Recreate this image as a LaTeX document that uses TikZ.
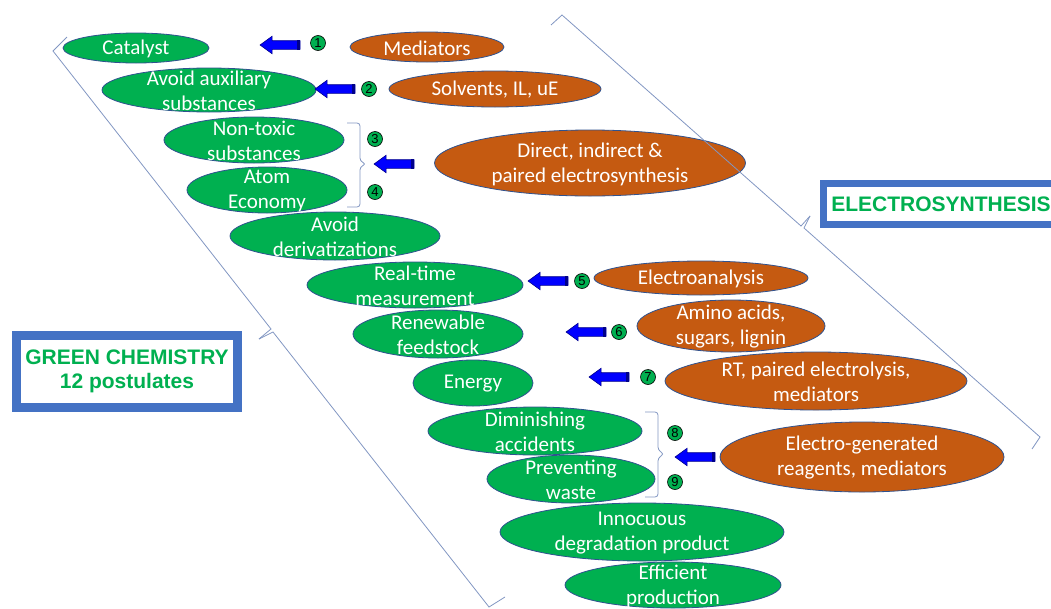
\documentclass[tikz,border=0pt]{standalone}
\usepackage{fontspec}
\setmainfont{Carlito}
\newfontfamily\arialf{Liberation Sans}
\usetikzlibrary{shapes.geometric,shapes.arrows,calc}
\definecolor{gfill}{HTML}{00B050}
\definecolor{ofill}{HTML}{C55A11}
\definecolor{outl}{HTML}{2F528F}
\definecolor{boxblue}{HTML}{4472C4}
\definecolor{boxgreen}{HTML}{00B050}
\definecolor{bracecol}{HTML}{8196C2}
\definecolor{arrowblue}{HTML}{0000FF}
\definecolor{arrowline}{HTML}{00008B}
\begin{document}
\begin{tikzpicture}[x=1pt,y=-1pt,
  ell/.style={ellipse, draw=outl, line width=0.8pt, inner sep=0pt},
  gell/.style={ell, fill=gfill},
  oell/.style={ell, fill=ofill},
  txt/.style={text=white, align=center, font=\fontsize{21}{25}\selectfont, inner sep=0pt, yshift=-1pt},
  num/.style={circle, draw=black, line width=0.6pt, fill=gfill, minimum size=15pt, inner sep=0pt, font=\arialf\fontsize{13}{13}\selectfont},
  barrow/.style={single arrow, draw=arrowline, line width=0.6pt, fill=arrowblue, minimum height=40pt, inner xsep=0pt, inner ysep=4pt, single arrow head extend=4.5pt, single arrow tip angle=72, shape border rotate=180},
  sbrace/.style={draw=bracecol, line width=0.8pt, rounded corners=3pt},
  bbrace/.style={draw=bracecol, line width=0.8pt},
  tbox/.style={draw=boxblue, fill=white, text=boxgreen, font=\arialf\bfseries\fontsize{21}{24}\selectfont, align=center, inner sep=0pt}
]
\useasboundingbox (0,0) rectangle (1051,608);
\clip (0,0) rectangle (1051,608);

% green ellipses
\node[gell, minimum width=146pt, minimum height=30pt] (cat) at (136,48) {};
\node[gell, minimum width=214pt, minimum height=44pt] (aux) at (209,90) {};
\node[gell, minimum width=180pt, minimum height=46pt] (ntx) at (254,140) {};
\node[gell, minimum width=160pt, minimum height=46pt] (atom) at (267,190) {};
\node[gell, minimum width=210pt, minimum height=48pt] (der) at (335,236) {};
\node[gell, minimum width=216pt, minimum height=46pt] (rt) at (415,285) {};
\node[gell, minimum width=170pt, minimum height=48pt] (ren) at (438,334) {};
\node[gell, minimum width=120pt, minimum height=46pt] (ene) at (473,383) {};
\node[gell, minimum width=214pt, minimum height=48pt] (dim) at (535,431) {};
\node[gell, minimum width=168pt, minimum height=48pt] (prev) at (571,479) {};
\node[gell, minimum width=284pt, minimum height=58pt] (inn) at (642,532) {};
\node[gell, minimum width=216pt, minimum height=46pt] (eff) at (673,585) {};

% orange ellipses
\node[oell, minimum width=154pt, minimum height=30pt] (med) at (427,47) {};
\node[oell, minimum width=212pt, minimum height=36pt] (sol) at (495,89) {};
\node[oell, minimum width=311pt, minimum height=66pt] (dir) at (590,163) {};
\node[oell, minimum width=214pt, minimum height=34pt] (ea) at (701,278) {};
\node[oell, minimum width=188pt, minimum height=52pt] (amino) at (731,326) {};
\node[oell, minimum width=302pt, minimum height=58pt] (rtp) at (816,381) {};
\node[oell, minimum width=284pt, minimum height=70pt] (eg) at (862,457) {};

% texts
\node[txt] (tcat) at (cat) {Catalyst};
\node[txt] (taux) at (aux) {Avoid auxiliary\\substances};
\node[txt] (tntx) at (ntx) {Non-toxic\\substances};
\node[txt] (tatom) at (atom) {Atom\\Economy};
\node[txt] (tder) at (der) {Avoid\\derivatizations};
\node[txt] (trt) at (rt) {Real-time\\measurement};
\node[txt] (tren) at (ren) {Renewable\\feedstock};
\node[txt] (tene) at (ene) {Energy};
\node[txt] (tdim) at (dim) {Diminishing\\accidents};
\node[txt] (tprev) at (prev) {Preventing\\waste};
\node[txt] (tinn) at (inn) {Innocuous\\degradation product};
\node[txt] (teff) at (eff) {Efficient\\production};
\node[txt] (tmed) at (med) {Mediators};
\node[txt] (tsol) at (sol) {Solvents, IL, uE};
\node[txt] (tdir) at (dir) {Direct, indirect \&\\paired electrosynthesis};
\node[txt] (tea) at (ea) {Electroanalysis};
\node[txt] (tamino) at (amino) {Amino acids,\\sugars, lignin};
\node[txt] (trtp) at (rtp) {RT, paired electrolysis,\\mediators};
\node[txt] (teg) at (eg) {Electro-generated\\reagents, mediators};

% block arrows
\node[barrow] (a1) at (283,45) {};
\node[barrow] (a2) at (338,89) {};
\node[barrow] (a3) at (397,164) {};
\node[barrow] (a5) at (551,281) {};
\node[barrow] (a6) at (589,332) {};
\node[barrow] (a7) at (612,377) {};
\node[barrow] (a8) at (698,457) {};
\foreach \a in {a1,a2,a3,a5,a6,a7,a8}
  \fill[arrowline] (\a.before tail) rectangle ($(\a.after tail)+(-3,0)$);

% numbered circles
\node[num] (n1) at (318,43) {1};
\node[num] (n2) at (369,89) {2};
\node[num] (n3) at (375,139) {3};
\node[num] (n4) at (375,192) {4};
\node[num] (n5) at (582,281) {5};
\node[num] (n6) at (619,332) {6};
\node[num] (n7) at (648,377) {7};
\node[num] (n8) at (675,433) {8};
\node[num] (n9) at (675,482) {9};

% small braces
\draw[sbrace] (347,123) -- (360,123) -- (360,161) -- (366,164) -- (360,167) -- (360,207) -- (347,207);
\draw[sbrace] (645,412) -- (658,412) -- (658,450) -- (664,454) -- (658,458) -- (658,497) -- (645,497);

% big braces
\coordinate (lt) at (53,51);
\coordinate (lth) at (67,37);
\coordinate (lm) at (271,329);
\coordinate (ltip) at (259,339);
\coordinate (lb) at (489,607);
\coordinate (lbh) at (505,597);
\draw[bbrace] (lth) -- (lt) -- (lm) -- (ltip);
\draw[bbrace] (ltip) -- ($(lm)+(2,3)$) -- (lb) -- (lbh);

\coordinate (rtop) at (562,15);
\coordinate (rtoph) at (551,25);
\coordinate (rm) at (801,226);
\coordinate (rtip) at (810,216);
\coordinate (rbot) at (1040,437);
\coordinate (rboth) at (1032,449);
\draw[bbrace] (rtoph) -- (rtop) -- (rm) -- (rtip);
\draw[bbrace] (rtip) -- ($(rm)+(3,2)$) -- (rbot) -- (rboth);

% title boxes
\node[tbox, line width=9pt, minimum width=221pt, minimum height=72pt] (gc) at (127,371.5) {GREEN CHEMISTRY\\12 postulates};
\node[tbox, line width=7pt, minimum width=235pt, minimum height=41pt] (es) at (941,204) {ELECTROSYNTHESIS};
\end{tikzpicture}
\end{document}
